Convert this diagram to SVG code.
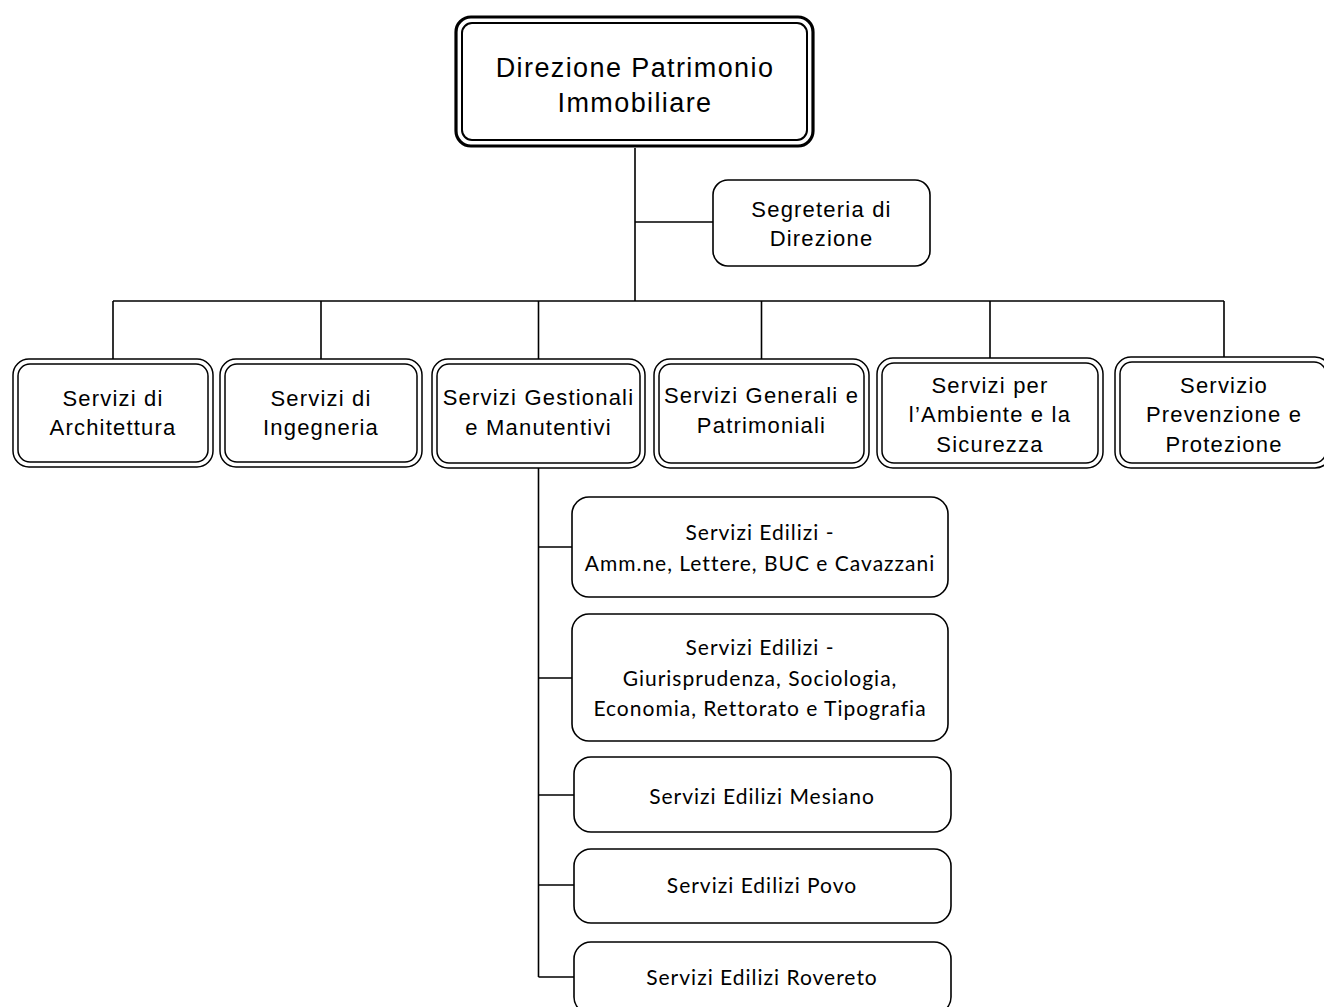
<svg xmlns="http://www.w3.org/2000/svg" width="1324" height="1007" viewBox="0 0 1324 1007">
<style>
.bg{fill:#fff}
.ln{stroke:#000;stroke-width:1.6;fill:none}
.o{fill:#fff;stroke:#000;stroke-width:1.5}
.i{fill:none;stroke:#000;stroke-width:1.5}
.s{fill:#fff;stroke:#000;stroke-width:1.6}
.t1{font-family:"Liberation Sans",Arial,sans-serif;font-size:27px;letter-spacing:1.4px;text-anchor:middle;fill:#000}
.t2{font-family:"Liberation Sans",Arial,sans-serif;font-size:22px;letter-spacing:1.2px;text-anchor:middle;fill:#000}
.t3{font-family:Lato,"Liberation Sans",sans-serif;font-size:21px;letter-spacing:1px;text-anchor:middle;fill:#000}
</style>
<rect class="bg" x="0" y="0" width="1324" height="1007"/>
<g id="connectors">
<path class="ln" d="M635 148 V301 M635 222 H713 M113 301 H1224 M113 301 V359 M321 301 V359 M538.5 301 V359 M761.5 301 V359 M990 301 V359 M1224 301 V358"/>
<path class="ln" d="M538.5 468 V977 M538.5 547 H573 M538.5 678 H573 M538.5 795 H574 M538.5 885 H574 M538.5 977 H574"/>
</g>
<g id="direzione">
<rect x="456" y="17" width="357" height="129" rx="15" fill="#fff" stroke="#000" stroke-width="3.2"/>
<rect x="462" y="23" width="345" height="117" rx="10" fill="none" stroke="#000" stroke-width="2"/>
<text class="t1" x="635" y="77">Direzione Patrimonio</text>
<text class="t1" x="635" y="112">Immobiliare</text>
</g>
<g id="segreteria">
<rect class="s" x="713" y="180" width="217" height="86" rx="15"/>
<text class="t2" x="821.5" y="217">Segreteria di</text>
<text class="t2" x="821.5" y="246">Direzione</text>
</g>
<g id="architettura">
<rect class="o" x="13" y="359" width="200" height="108" rx="16"/>
<rect class="i" x="18" y="364" width="190" height="98" rx="12"/>
<text class="t2" x="113" y="406">Servizi di</text>
<text class="t2" x="113" y="435">Architettura</text>
</g>
<g id="ingegneria">
<rect class="o" x="220" y="359" width="202" height="108" rx="16"/>
<rect class="i" x="225" y="364" width="192" height="98" rx="12"/>
<text class="t2" x="321" y="406">Servizi di</text>
<text class="t2" x="321" y="435">Ingegneria</text>
</g>
<g id="gestionali">
<rect class="o" x="432" y="359" width="213" height="109" rx="16"/>
<rect class="i" x="437" y="364" width="203" height="99" rx="12"/>
<text class="t2" x="538.5" y="405">Servizi Gestionali</text>
<text class="t2" x="538.5" y="435">e Manutentivi</text>
</g>
<g id="generali">
<rect class="o" x="654" y="359" width="215" height="109" rx="16"/>
<rect class="i" x="659" y="364" width="205" height="99" rx="12"/>
<text class="t2" x="761.5" y="403">Servizi Generali e</text>
<text class="t2" x="761.5" y="433">Patrimoniali</text>
</g>
<g id="ambiente">
<rect class="o" x="877" y="358" width="226" height="110" rx="16"/>
<rect class="i" x="882" y="363" width="216" height="100" rx="12"/>
<text class="t2" x="990" y="393">Servizi per</text>
<text class="t2" x="990" y="422">l’Ambiente e la</text>
<text class="t2" x="990" y="452">Sicurezza</text>
</g>
<g id="prevenzione">
<rect class="o" x="1115" y="357" width="216" height="111" rx="16"/>
<rect class="i" x="1120" y="362" width="206" height="101" rx="12"/>
<text class="t2" x="1224" y="393">Servizio</text>
<text class="t2" x="1224" y="422">Prevenzione e</text>
<text class="t2" x="1224" y="452">Protezione</text>
</g>
<g id="edilizi-amm">
<rect class="s" x="572" y="497" width="376" height="100" rx="17"/>
<text class="t3" x="760" y="540">Servizi Edilizi -</text>
<text class="t3" x="760" y="571">Amm.ne, Lettere, BUC e Cavazzani</text>
</g>
<g id="edilizi-giur">
<rect class="s" x="572" y="614" width="376" height="127" rx="17"/>
<text class="t3" x="760" y="655">Servizi Edilizi -</text>
<text class="t3" x="760" y="686">Giurisprudenza, Sociologia,</text>
<text class="t3" x="760" y="716">Economia, Rettorato e Tipografia</text>
</g>
<g id="edilizi-mesiano">
<rect class="s" x="574" y="757" width="377" height="75" rx="17"/>
<text class="t3" x="762" y="804">Servizi Edilizi Mesiano</text>
</g>
<g id="edilizi-povo">
<rect class="s" x="574" y="849" width="377" height="74" rx="17"/>
<text class="t3" x="762" y="893">Servizi Edilizi Povo</text>
</g>
<g id="edilizi-rovereto">
<rect class="s" x="574" y="942" width="377" height="72" rx="17"/>
<text class="t3" x="762" y="985">Servizi Edilizi Rovereto</text>
</g>
</svg>
